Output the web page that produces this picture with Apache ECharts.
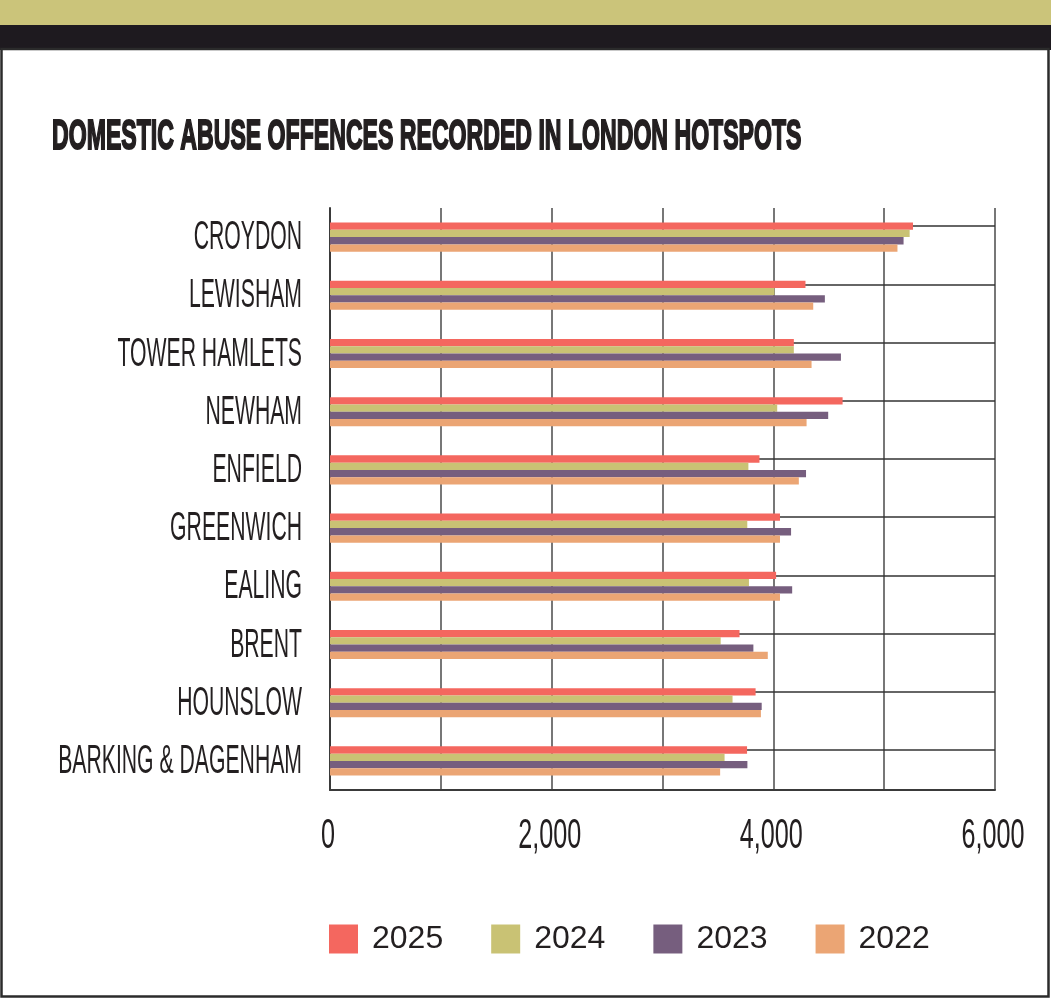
<!DOCTYPE html>
<html>
<head>
<meta charset="utf-8">
<title>Domestic abuse offences</title>
<script src="https://cdn.jsdelivr.net/npm/echarts@6/dist/echarts.min.js"></script>
<style>
    html, body { margin: 0; padding: 0; background: #fff; }
    #chart { width: 1051px; height: 1001px; }
</style>
</head>
<body>
<div id="chart"></div>
<script>
// 行政区（自上而下）
const categories = ['CROYDON', 'LEWISHAM', 'TOWER HAMLETS', 'NEWHAM', 'ENFIELD',
    'GREENWICH', 'EALING', 'BRENT', 'HOUNSLOW', 'BARKING & DAGENHAM'];
// 各年份记录数（从图上读出，估算）
const years = ['2025', '2024', '2023', '2022'];
const s2025 = [5260, 4290, 4185, 4625, 3875, 4060, 4025, 3695, 3840, 3763];
const s2024 = [5230, 4010, 4185, 4035, 3775, 3765, 3780, 3525, 3632, 3560];
const s2023 = [5175, 4465, 4610, 4495, 4295, 4160, 4170, 3820, 3895, 3766];
const s2022 = [5120, 4360, 4345, 4300, 4230, 4060, 4060, 3950, 3888, 3520];
// x轴刻度标签
const xTickLabels = [0, 2000, 4000, 6000];

const colors = ['#f4675f', '#c9c274', '#765e7e', '#eba574'];
const textColor = '#231f20';
const lightFont = '40px "Liberation Sans", "DejaVu Sans", sans-serif';

let chart = echarts.init(document.getElementById('chart'));

let seriesData = [s2025, s2024, s2023, s2022];
let barSeries = years.map(function (y, i) {
    let s = {
        name: y,
        type: 'bar',
        data: seriesData[i],
        itemStyle: { color: colors[i] },
        barGap: '0%',
        barCategoryGap: '50%'
    };
    if (i === 0) {
        // 每个类别中线上的横线
        s.markLine = {
            silent: true,
            z: 1,
            symbol: ['none', 'none'],
            label: { show: false },
            lineStyle: { color: '#333', width: 1.5, type: 'solid' },
            data: categories.map(function (c) { return { yAxis: c }; })
        };
    }
    return s;
});

let option = {
    animation: false,
    grid: { left: 330, right: 56, top: 208, height: 582, containLabel: false },
    legend: {
        data: years,
        left: 329,
        top: 923,
        padding: 0,
        itemWidth: 29,
        itemHeight: 29,
        itemGap: 48,
        icon: 'rect',
        textStyle: {
            fontFamily: '"Liberation Sans", sans-serif',
            fontSize: 32,
            color: textColor,
            padding: [0, 0, 0, 9]
        }
    },
    xAxis: {
        type: 'value',
        min: 0,
        max: 6000,
        interval: 1000,
        axisLabel: { show: false },
        axisTick: { show: false },
        axisLine: { show: true, lineStyle: { color: '#3a3a3a', width: 2 } },
        splitLine: { show: true, lineStyle: { color: '#4a4a4a', width: 1.5 } }
    },
    yAxis: {
        type: 'category',
        inverse: true,
        data: categories,
        axisLabel: { show: false },
        axisTick: { show: false },
        axisLine: { show: true, lineStyle: { color: '#3a3a3a', width: 2 } },
        splitLine: { show: false }
    },
    graphic: [
        { type: 'rect', shape: { x: 0, y: 0, width: 1051, height: 25 }, style: { fill: '#cbc47a' } },
        { type: 'rect', shape: { x: 0, y: 25, width: 1051, height: 25 }, style: { fill: '#1e1a1f' } },
        {
            type: 'rect',
            shape: { x: 1.5, y: 49, width: 1047, height: 947.5 },
            style: { fill: 'none', stroke: '#2b2b2b', lineWidth: 2.5 }
        },
        {
            type: 'text',
            x: 52,
            y: 137,
            scaleX: 0.55,
            style: {
                text: 'DOMESTIC ABUSE OFFENCES RECORDED IN LONDON HOTSPOTS',
                font: 'bold 42px "Liberation Sans", "DejaVu Sans", sans-serif',
                fill: textColor,
                stroke: textColor,
                lineWidth: 2,
                verticalAlign: 'middle'
            }
        }
    ],
    series: barSeries.concat([
        {
            // 类别标签（压缩字体）
            name: 'catLabels',
            type: 'custom',
            silent: true,
            clip: false,
            data: categories.map(function (c, i) { return [0, i]; }),
            encode: { x: 0, y: 1 },
            renderItem: function (params, api) {
                let pt = api.coord([0, api.value(1)]);
                return {
                    type: 'text',
                    x: pt[0] - 28,
                    y: pt[1] + 1,
                    scaleX: 0.53,
                    style: {
                        text: categories[params.dataIndex],
                        font: lightFont,
                        fill: textColor,
                        align: 'right',
                        verticalAlign: 'middle'
                    }
                };
            }
        },
        {
            // x轴刻度标签
            name: 'xLabels',
            type: 'custom',
            silent: true,
            clip: false,
            data: xTickLabels.map(function (v) { return [v, categories.length - 1]; }),
            encode: { x: 0, y: 1 },
            renderItem: function (params, api) {
                let pt = api.coord([api.value(0), api.value(1)]);
                let band = api.size([0, 1])[1];
                return {
                    type: 'text',
                    x: pt[0] - 2,
                    y: pt[1] + band / 2 + 46,
                    scaleX: 0.6,
                    style: {
                        text: xTickLabels[params.dataIndex].toLocaleString('en-US'),
                        font: '42px "Liberation Sans", "DejaVu Sans", sans-serif',
                        fill: textColor,
                        align: 'center',
                        verticalAlign: 'middle'
                    }
                };
            }
        }
    ])
};
chart.setOption(option);
</script>
</body>
</html>
